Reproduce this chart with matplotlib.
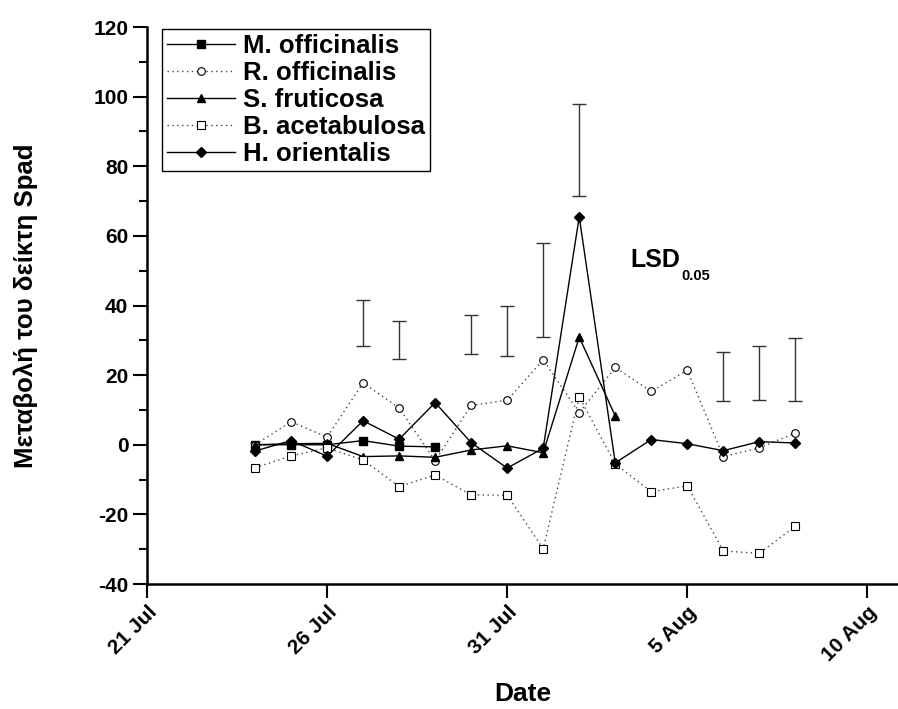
import numpy as np
import matplotlib.pyplot as plt
import matplotlib.dates as mdates
from datetime import date, timedelta

# ημερομηνίες μετρήσεων (24 Jul - 8 Aug)
days = [date(2023, 7, 24) + timedelta(days=i) for i in range(16)]

m_off = [0.0, 0.0, 0.0, 1.2, -0.4, -0.6]
r_off = [0.0, 6.6, 2.2, 17.8, 10.5, -4.6, 11.3, 12.8, 24.4, 9.2, 22.2, 15.3, 21.4, -3.4, -0.9, 3.4]
s_fru = [0.0, 0.3, 0.4, -3.4, -3.2, -3.6, -1.5, -0.3, -2.3, 30.9, 8.3]
b_ace = [-6.6, -3.2, -0.9, -4.4, -12.0, -8.7, -14.4, -14.5, -29.9, 13.8, -5.5, -13.5, -11.8, -30.5, -31.2, -23.4]
h_ori = [-1.8, 1.2, -3.3, 6.9, 1.6, 12.1, 0.6, -6.7, -1.0, 65.5, -5.2, 1.5, 0.3, -1.7, 0.9, 0.5]

# LSD 0.05 (άνω / κάτω άκρο)
lsd_days = [date(2023, 7, 27), date(2023, 7, 28), date(2023, 7, 30), date(2023, 7, 31),
            date(2023, 8, 1), date(2023, 8, 2), date(2023, 8, 6), date(2023, 8, 7), date(2023, 8, 8)]
lsd_top = [41.5, 35.5, 37.2, 39.8, 58.0, 97.8, 26.7, 28.4, 30.6]
lsd_bot = [28.5, 24.5, 26.0, 25.5, 31.0, 71.6, 12.5, 12.8, 12.6]

plt.rcParams['font.family'] = ['Liberation Sans', 'DejaVu Sans']
plt.rcParams['font.weight'] = 'bold'
plt.rcParams['axes.unicode_minus'] = False

fig = plt.figure(figsize=(8.98, 7.09), dpi=100)
ax = fig.add_axes([0.1637, 0.1763, 0.8363, 0.7856])

ms = 5.5
ax.plot(days[:len(m_off)], m_off, '-s', color='black', lw=1, ms=ms, label='M. officinalis')
ax.plot(days, r_off, 'o', ls=(0, (1, 2.5)), color='#444444', lw=1, ms=ms,
        mfc='white', mec='black', mew=0.8, label='R. officinalis')
ax.plot(days[:len(s_fru)], s_fru, '-^', color='black', lw=1, ms=ms + 0.5, label='S. fruticosa')
ax.plot(days, b_ace, 's', ls=(0, (1, 2.5)), color='#444444', lw=1, ms=ms,
        mfc='white', mec='black', mew=0.8, label='B. acetabulosa')
ax.plot(days, h_ori, '-D', color='black', lw=1, ms=ms, label='H. orientalis')

top = np.array(lsd_top)
bot = np.array(lsd_bot)
ax.errorbar(lsd_days, (top + bot) / 2, yerr=(top - bot) / 2, fmt='none',
            ecolor='#333333', elinewidth=1, capsize=5, capthick=1)
ax.text(0.643, 0.582, 'LSD', transform=ax.transAxes,
        fontsize=18, fontweight='bold', va='center', ha='left')
ax.text(0.711, 0.553, '0.05', transform=ax.transAxes,
        fontsize=10.5, fontweight='bold', va='center', ha='left')

x0 = mdates.date2num(date(2023, 7, 21))
ax.set_xlim(x0, x0 + 20.85)
ax.set_ylim(-40, 120)
ticks = [date(2023, 7, 21), date(2023, 7, 26), date(2023, 7, 31), date(2023, 8, 5), date(2023, 8, 10)]
ax.set_xticks(ticks)
ax.set_xticklabels(['21 Jul', '26 Jul', '31 Jul', '5 Aug', '10 Aug'],
                   rotation=45, ha='right', rotation_mode='anchor', fontsize=15, fontweight='bold')
ax.set_yticks(np.arange(-40, 121, 20))
ax.set_yticks(np.arange(-30, 120, 20), minor=True)
ax.tick_params(axis='y', labelsize=15, length=10, width=1.5, which='major')
ax.tick_params(axis='y', length=6, width=1.5, which='minor')
ax.tick_params(axis='x', length=10, width=1.5)

for s in ['top', 'right']:
    ax.spines[s].set_visible(False)
for s in ['left', 'bottom']:
    ax.spines[s].set_linewidth(1.8)

ax.set_xlabel('Date', fontsize=19, fontweight='bold', labelpad=12)
ax.set_ylabel('Μεταβολή του δείκτη Spad', fontsize=18.5, fontweight='bold', labelpad=40)

leg = ax.legend(loc='upper left', bbox_to_anchor=(0.02, 0.997), borderaxespad=0,
                fancybox=False, edgecolor='black', framealpha=1,
                prop={'size': 18.5, 'weight': 'bold'}, handlelength=2.65,
                handletextpad=0.3, labelspacing=0.12, borderpad=0.2)
leg.get_frame().set_linewidth(1)

fig.savefig('out.png', dpi=100)
